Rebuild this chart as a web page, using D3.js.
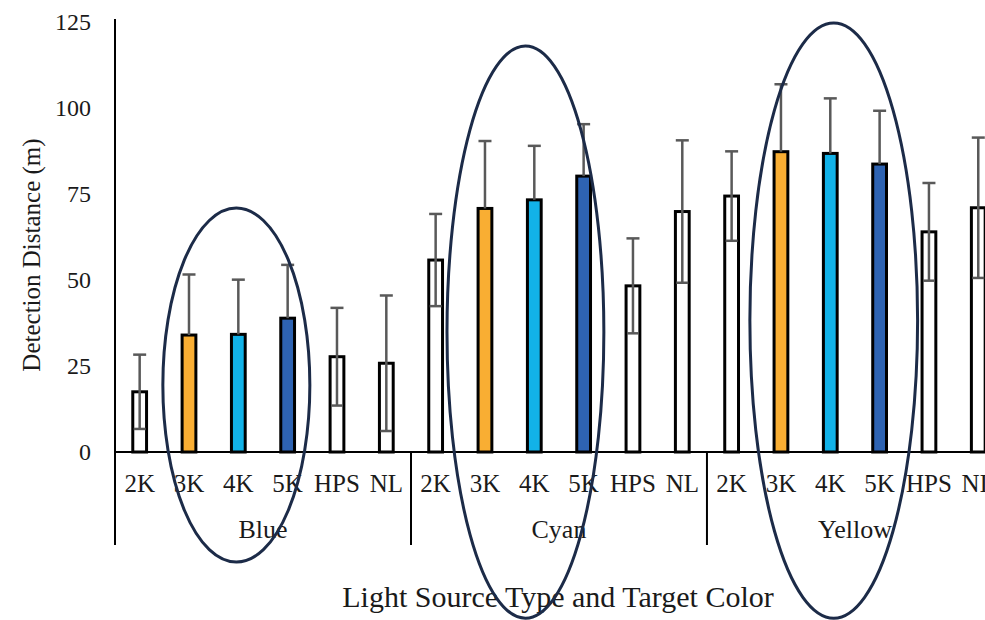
<!DOCTYPE html>
<html><head><meta charset="utf-8">
<script src="https://cdn.jsdelivr.net/npm/d3@7"></script>
<style>
html,body{margin:0;padding:0;background:#fff;overflow:hidden}
text{font-family:"Liberation Serif","Times New Roman",serif;fill:#1a1a1a}
</style></head>
<body>
<svg id="c" width="985" height="620"></svg>
<script>
const groups = ["Blue", "Cyan", "Yellow"];
const categories = ["2K", "3K", "4K", "5K", "HPS", "NL"];
const meanBlue   = [17.5, 34.0, 34.2, 38.9, 27.7, 25.8];
const meanCyan   = [55.8, 70.8, 73.3, 80.2, 48.3, 69.9];
const meanYellow = [74.4, 87.3, 86.8, 83.7, 64.0, 71.0];
const sdBlue     = [10.8, 17.6, 15.9, 15.5, 14.2, 19.7];
const sdCyan     = [13.4, 19.6, 15.7, 15.1, 13.8, 20.7];
const sdYellow   = [13.0, 19.6, 16.0, 15.5, 14.2, 20.4];
const yTicks = [0, 25, 50, 75, 100, 125];
const barFills = ["#ffffff", "#F9AE33", "#12B2E8", "#2E63B2", "#ffffff", "#ffffff"];
// annotation ellipses: center (category index units), half-width (units), top/bottom (value units)
const ellipseCenter = [2.46, 8.32, 14.57];
const ellipseHalfW  = [1.49, 1.59, 1.70];
const ellipseTop    = [70.9, 118.0, 124.7];
const ellipseBottom = [-32.0, -48.3, -48.3];

const means = [meanBlue, meanCyan, meanYellow];
const sds = [sdBlue, sdCyan, sdYellow];
const data = [];
groups.forEach((g, gi) => categories.forEach((c, ci) => data.push({
  key: g + "|" + c, group: g, cat: c, ci, v: means[gi][ci], sd: sds[gi][ci], fill: barFills[ci]
})));

const svg = d3.select("#c");
const left = 115, bandW = 49.33, baseY = 452;
const x = d3.scaleBand().domain(data.map(d => d.key)).range([left, left + bandW * data.length]).paddingInner(0.66).paddingOuter(0.33);
const xi = d3.scaleLinear().domain([0, data.length]).range([left, left + bandW * data.length]);
const y = d3.scaleLinear().domain([0, 125]).range([baseY, 22]);

// bars
svg.append("g").selectAll("rect").data(data).join("rect")
  .attr("x", d => x(d.key) + 1.5).attr("width", x.bandwidth() - 3)
  .attr("y", d => y(d.v)).attr("height", d => y(0) - y(d.v))
  .attr("fill", d => d.fill).attr("stroke", "#000").attr("stroke-width", 3);

// error bars
const eb = svg.append("g").attr("stroke", "#595959").attr("stroke-width", 2.5).attr("fill", "none");
data.forEach(d => {
  const cx = x(d.key) + x.bandwidth() / 2;
  const white = d.fill === "#ffffff";
  const lo = white ? d.v - d.sd : d.v;
  eb.append("line").attr("x1", cx).attr("x2", cx).attr("y1", y(lo)).attr("y2", y(d.v + d.sd));
  eb.append("line").attr("x1", cx - 6.5).attr("x2", cx + 6.5).attr("y1", y(d.v + d.sd)).attr("y2", y(d.v + d.sd));
  if (white) eb.append("line").attr("x1", cx - 6).attr("x2", cx + 6).attr("y1", y(lo)).attr("y2", y(lo));
});

// y axis
const ya = svg.append("g").attr("transform", `translate(${left},0)`)
  .call(d3.axisLeft(y).tickValues(yTicks).tickSize(0).tickPadding(24));
ya.select(".domain").remove();
ya.selectAll("text").attr("font-size", 24).attr("font-family", "Liberation Serif").attr("fill", "#1a1a1a");
svg.append("line").attr("x1", left).attr("x2", left).attr("y1", 19).attr("y2", 545).attr("stroke", "#000").attr("stroke-width", 2);
svg.append("line").attr("x1", left).attr("x2", 985).attr("y1", baseY).attr("y2", baseY).attr("stroke", "#000").attr("stroke-width", 2);

// x category labels
svg.append("g").selectAll("text").data(data).join("text")
  .attr("x", d => x(d.key) + x.bandwidth() / 2).attr("y", 492)
  .attr("text-anchor", "middle").attr("font-size", 25).text(d => d.cat);
// group separators & labels
groups.forEach((g, gi) => {
  const gx = xi(gi * categories.length);
  if (gi > 0) svg.append("line").attr("x1", gx).attr("x2", gx).attr("y1", baseY).attr("y2", 545).attr("stroke", "#000").attr("stroke-width", 2);
  svg.append("text").attr("x", xi(gi * categories.length + categories.length / 2)).attr("y", 538)
    .attr("text-anchor", "middle").attr("font-size", 26).text(g);
});

// axis titles
svg.append("text").attr("transform", "translate(40,255) rotate(-90)").attr("text-anchor", "middle")
  .attr("font-size", 25).text("Detection Distance (m)");
svg.append("text").attr("x", 558).attr("y", 607).attr("text-anchor", "middle")
  .attr("font-size", 30).text("Light Source Type and Target Color");

// annotation ellipses
ellipseCenter.forEach((c, i) => {
  svg.append("ellipse")
    .attr("cx", xi(c)).attr("rx", xi(ellipseHalfW[i]) - xi(0))
    .attr("cy", (y(ellipseTop[i]) + y(ellipseBottom[i])) / 2)
    .attr("ry", (y(ellipseBottom[i]) - y(ellipseTop[i])) / 2)
    .attr("fill", "none").attr("stroke", "#1c2b48").attr("stroke-width", 3);
});
</script>
</body></html>
